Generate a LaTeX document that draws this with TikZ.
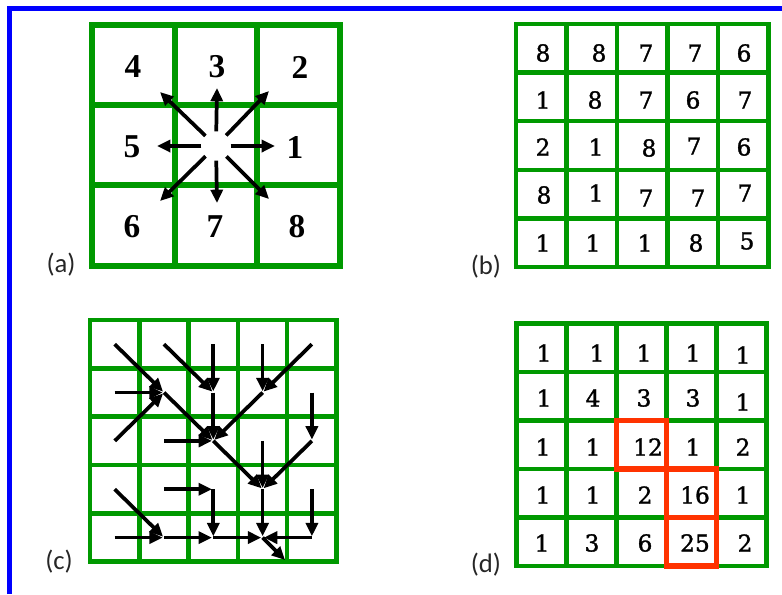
\documentclass[tikz,border=0pt]{standalone}
\usepackage{fontspec}
\setmainfont{Liberation Serif}
\newfontfamily\dvs[FakeBold=1.3]{DejaVu Serif}
\newfontfamily\labfont{Carlito}
\usetikzlibrary{arrows.meta,calc}
\definecolor{gridgreen}{RGB}{0,153,0}
\definecolor{hired}{RGB}{255,51,0}
\definecolor{frameblue}{RGB}{0,0,255}
\begin{document}
\begin{tikzpicture}[x=0.75pt,y=-0.75pt,
  biggrid/.style={draw=gridgreen,line width=4.5pt,line cap=rect},
  smallgrid/.style={draw=gridgreen,line width=3.4pt,line cap=rect},
  dirnum/.style={font=\fontsize{25}{25}\selectfont\bfseries,inner sep=0pt},
  cellnum/.style={font=\dvs\fontsize{17.5}{17.5}\selectfont,inner sep=0pt},
  panel/.style={font=\labfont\fontsize{20}{20}\selectfont,inner sep=0pt,text=black!85},
  dirarrow/.style={line width=2.8pt,-{Triangle[length=10pt,width=9pt]},shorten <=11pt},
  flow/.style={line width=2.8pt,-{Triangle[length=10pt,width=9pt]},shorten >=1pt},
  pathbox/.style={draw=hired,line width=4pt,line cap=rect}
]
\useasboundingbox (0,0) rectangle (782,594);
\draw[frameblue,line width=3.75pt] (9.5,594) -- (9.5,8.5) -- (782,8.5);

% ---------- (a) ----------
\draw[biggrid] (92,25) rectangle (340,266);
\foreach \x in {175,257} \draw[biggrid] (\x,25) -- (\x,266);
\foreach \y in {105,185} \draw[biggrid] (92,\y) -- (340,\y);
\foreach \x/\y/\t in {133/67/4,217/67/3,300/67/2,132/147/5,295/147/1,132/227/6,215/227/7,297/227/8}
  \node[dirnum] (a\t) at (\x,\y) {\t};
\coordinate (ctr) at (216,146);
\coordinate (eE) at (275,146);
\coordinate (eN) at (217,88);
\coordinate (eW) at (157,146);
\coordinate (eS) at (217,203);
\coordinate (eNE) at (269,91);
\coordinate (eNW) at (160,92);
\coordinate (eSW) at (160,201);
\coordinate (eSE) at (269,199);
\foreach \e in {eE,eN,eW,eS,eNE,eNW,eSW,eSE}
  \draw[dirarrow] (ctr) -- (\e);
\node[panel] (la) at (61,265) {(a)};

% ---------- (b) ----------
\foreach \i in {0,...,5} {
  \draw[smallgrid] ({516+50.5*\i},24) -- ({516+50.5*\i},267);
  \draw[smallgrid] (516,{24+48.6*\i}) -- (768.5,{24+48.6*\i});
}
\foreach \x/\y/\t [count=\k] in {
  543/53/8,599/53/8,646/53/7,695/53/7,744/53/6,
  543/100/1,595/100/8,646/100/7,693/100/6,745/100/7,
  543/147/2,596/147/1,649/148/8,694/146/7,744/147/6,
  544/195/8,596/193/1,646/198/7,698/198/7,745/193/7,
  543/243/1,593/243/1,645/243/1,696/243/8,747/241/5}
  \node[cellnum] (b\k) at (\x,\y) {\t};
\node[panel] (lb) at (486,267) {(b)};

% ---------- (c) ----------
\foreach \i in {0,...,5} {
  \draw[smallgrid] ({90+49.3*\i},320) -- ({90+49.3*\i},561.7);
  \draw[smallgrid] (90,{320+48.35*\i}) -- (336.5,{320+48.35*\i});
}
\foreach \i in {1,...,5} \foreach \j in {1,...,5}
  \coordinate (c\i\j) at ({114.7+49.3*(\j-1)},{344.2+48.35*(\i-1)});
\coordinate (out) at (286,561);
\foreach \s/\t in {c11/c22,c12/c23,c13/c23,c14/c24,c15/c24,
  c21/c22,c22/c33,c23/c33,c24/c33,c25/c35,
  c31/c22,c32/c33,c33/c44,c34/c44,c35/c44,
  c41/c52,c42/c43,c43/c53,c44/c54,c45/c55,
  c51/c52,c52/c53,c53/c54,c54/out,c55/c54}
  \draw[flow] (\s) -- (\t);
\node[panel] (lc) at (59,562) {(c)};

% ---------- (d) ----------
\foreach \i in {0,...,5} {
  \draw[smallgrid] ({516.7+50*\i},323.3) -- ({516.7+50*\i},566.05);
  \draw[smallgrid] (516.7,{323.3+48.55*\i}) -- (766.7,{323.3+48.55*\i});
}
\draw[pathbox] (616.7,420.4) rectangle (666.7,468.95);
\draw[pathbox] (666.7,468.95) rectangle (716.7,517.5);
\draw[pathbox] (666.7,517.5) rectangle (716.7,566.05);
\foreach \x/\y/\t [count=\k] in {
  544/353/1,597/353/1,644/353/1,693/353/1,743/355/1,
  544/398/1,593/398/4,644/398/3,693/398/3,743/402/1,
  543/447/1,593/447/1,648/447/12,693/447/1,743/447/2,
  543/495/1,593/495/1,645/495/2,695/495/16,743/495/1,
  542/543/1,592/543/3,645/543/6,695/543/25,745/543/2}
  \node[cellnum] (d\k) at (\x,\y) {\t};
\node[panel] (ld) at (486,565) {(d)};
\end{tikzpicture}
\end{document}
